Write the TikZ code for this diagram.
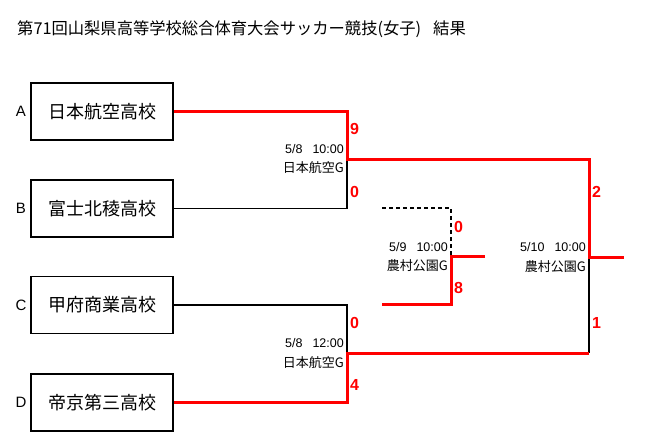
\documentclass[tikz,border=0pt]{standalone}
\usepackage{fontspec}
\setmainfont{Liberation Sans}
\newfontfamily\jp{Noto Sans CJK JP}
\usepackage{tikz}

\begin{document}
\begin{tikzpicture}[x=1pt,y=-1pt,
  school/.style={draw, line width=1.8pt, minimum width=142pt, minimum height=57pt, inner sep=0pt, font=\jp\fontsize{18}{18}\selectfont},
  seed/.style={inner sep=0pt, font=\fontsize{15}{15}\selectfont},
  score/.style={anchor=west, inner sep=0pt, text=red, font=\bfseries\fontsize{16}{16}\selectfont},
  info/.style={anchor=east, inner sep=0pt, font=\fontsize{12.5}{12.5}\selectfont},
  venue/.style={anchor=east, inner sep=0pt, font=\jp\fontsize{13}{13}\selectfont},
  win/.style={draw=red, line width=3pt},
  lose/.style={draw=black, line width=1.5pt}]
\useasboundingbox (0,0) rectangle (650,445);
\node[anchor=west, inner sep=0pt, font=\jp\fontsize{16.3}{16.3}\selectfont] (title) at (17,29) {第71回山梨県高等学校総合体育大会サッカー競技(女子)\hspace{12pt}結果};

% schools
\node[school] (a) at (102,111.5) {日本航空高校};
\node[school] (b) at (102,208.5) {富士北稜高校};
\node[school] (c) at (102,305) {甲府商業高校};
\node[school] (d) at (102,402.5) {帝京第三高校};
\node[seed] (la) at (21,111.5) {A};
\node[seed] (lb) at (21,208.5) {B};
\node[seed] (lc) at (21,305) {C};
\node[seed] (ld) at (21,402.5) {D};

% bracket points
\coordinate (m1) at (347,159);
\coordinate (m2) at (347,353);
\coordinate (f1) at (589,159);
\coordinate (f2) at (589,353);
\coordinate (fc) at (589,257);
\coordinate (champ) at (624,257);
\coordinate (t1) at (382,208);
\coordinate (t2) at (451,208);
\coordinate (t3) at (451,256);
\coordinate (t4) at (485,256);
\coordinate (t5) at (451,304);
\coordinate (t6) at (382,304);

% losers first
\draw[lose] (b.east) -| (m1);
\draw[lose] (c.east) -| (m2);
\draw[lose] (fc) -- (f2);
\draw[lose, dash pattern=on 4pt off 3pt] (t1) -- (t2) -- (t3);

% winners
\draw[win] (a.east) -| (m1) -- (f1) -- (fc) -- (champ);
\draw[win] (d.east) -| (m2) -- (f2);
\draw[win] (t4) -- (t3) -- (t5) -- (t6);

% scores and dates
\node[score] (s1) at (350,129) {9};
\node[score] (s2) at (350,192) {0};
\node[info] (d1) at (344,149) {5/8\hspace{10pt}10:00};
\node[venue] (v1) at (344,168) {日本航空G};

\node[score] (s3) at (350,323) {0};
\node[score] (s4) at (350,385) {4};
\node[info] (d2) at (344,343) {5/8\hspace{10pt}12:00};
\node[venue] (v2) at (344,363) {日本航空G};

\node[score] (s5) at (454,227) {0};
\node[score] (s6) at (454,288) {8};
\node[info] (d3) at (448,247) {5/9\hspace{10pt}10:00};
\node[venue] (v3) at (448,266) {農村公園G};

\node[score] (s7) at (592,192) {2};
\node[score] (s8) at (592,323) {1};
\node[info] (d4) at (586,247) {5/10\hspace{10pt}10:00};
\node[venue] (v4) at (586,267) {農村公園G};
\end{tikzpicture}
\end{document}
